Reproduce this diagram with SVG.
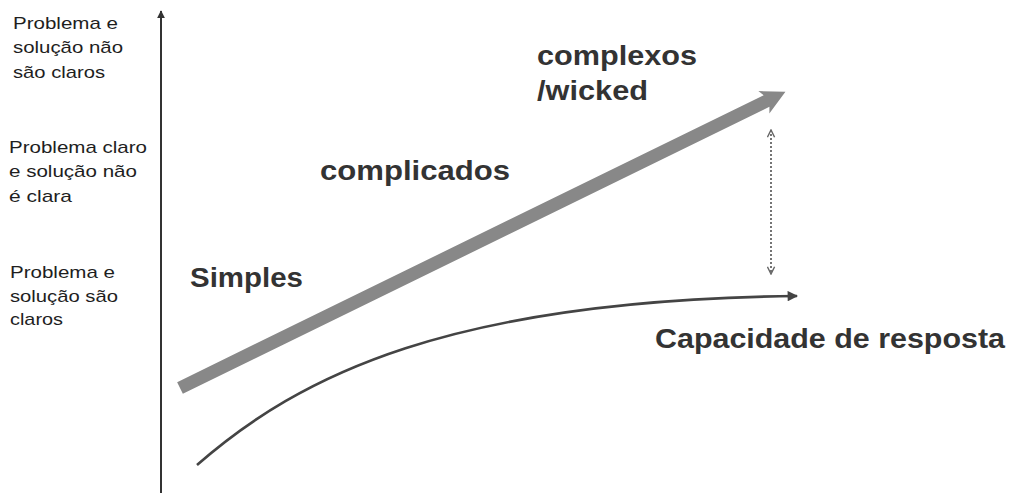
<svg xmlns="http://www.w3.org/2000/svg" width="1011" height="493" viewBox="0 0 1011 493">
  <style>
    .lbl { font-family: "Liberation Sans", Arial, sans-serif; font-size: 17px; fill: #1e1e1e; }
    .big { font-family: "Liberation Sans", Arial, sans-serif; font-size: 28px; font-weight: bold; fill: #333; }
    .axis { stroke: #333; stroke-width: 2; fill: none; }
    .gap { stroke: #666; stroke-width: 1.8; stroke-dasharray: 2 2; fill: none; }
    .resp { stroke: #444; stroke-width: 2.6; fill: none; }
  </style>
  <defs>
    <marker id="axisHead" viewBox="0 0 10 10" refX="9" refY="5" markerWidth="4" markerHeight="4" orient="auto" markerUnits="strokeWidth">
      <path d="M0,0 L10,5 L0,10 Z" fill="#333"/>
    </marker>
    <marker id="gapHead" viewBox="0 0 10 10" refX="9" refY="5" markerWidth="5" markerHeight="5" orient="auto-start-reverse" markerUnits="strokeWidth">
      <path d="M1,1 L9,5 L1,9" fill="none" stroke="#666" stroke-width="1.6"/>
    </marker>
    <marker id="respHead" viewBox="0 0 10 10" refX="9" refY="5" markerWidth="4.5" markerHeight="4" orient="auto" markerUnits="strokeWidth">
      <path d="M0,0 L10,5 L0,10 Z" fill="#444"/>
    </marker>
  </defs>

  <!-- row labels on the left -->
  <g id="label-top">
    <text class="lbl" x="13" y="29" textLength="105" lengthAdjust="spacingAndGlyphs">Problema e</text>
    <text class="lbl" x="13" y="53" textLength="110" lengthAdjust="spacingAndGlyphs">solução não</text>
    <text class="lbl" x="13" y="78" textLength="92" lengthAdjust="spacingAndGlyphs">são claros</text>
  </g>
  <g id="label-middle">
    <text class="lbl" x="9" y="153" textLength="138" lengthAdjust="spacingAndGlyphs">Problema claro</text>
    <text class="lbl" x="9" y="177" textLength="128" lengthAdjust="spacingAndGlyphs">e solução não</text>
    <text class="lbl" x="9" y="202" textLength="63" lengthAdjust="spacingAndGlyphs">é clara</text>
  </g>
  <g id="label-bottom">
    <text class="lbl" x="10" y="278" textLength="105" lengthAdjust="spacingAndGlyphs">Problema e</text>
    <text class="lbl" x="10" y="302" textLength="108" lengthAdjust="spacingAndGlyphs">solução são</text>
    <text class="lbl" x="10" y="325" textLength="53" lengthAdjust="spacingAndGlyphs">claros</text>
  </g>

  <!-- category labels -->
  <g id="simples">
    <text class="big" x="190" y="287" textLength="113" lengthAdjust="spacingAndGlyphs">Simples</text>
  </g>
  <g id="complicados">
    <text class="big" x="320" y="180" textLength="190" lengthAdjust="spacingAndGlyphs">complicados</text>
  </g>
  <g id="complexos">
    <text class="big" x="537" y="65" textLength="160" lengthAdjust="spacingAndGlyphs">complexos</text>
    <text class="big" x="537" y="100" textLength="111" lengthAdjust="spacingAndGlyphs">/wicked</text>
  </g>
  <g id="capacidade">
    <text class="big" x="655" y="348" textLength="350" lengthAdjust="spacingAndGlyphs">Capacidade de resposta</text>
  </g>

  <g id="connectors">
    <!-- vertical axis -->
    <line class="axis" x1="161" y1="493" x2="161" y2="11" marker-end="url(#axisHead)"/>
    <!-- thick complexity arrow -->
    <g transform="translate(180,388) rotate(-26.07)">
      <polygon points="0,-6.5 653,-6.5 650,-12.5 674,0 650,12.5 653,6.5 0,6.5" fill="#888"/>
    </g>
    <!-- gap between complexity and response capacity -->
    <line class="gap" x1="771" y1="130" x2="771" y2="274" marker-start="url(#gapHead)" marker-end="url(#gapHead)"/>
    <!-- response capacity curve -->
    <path class="resp" d="M197,465 C300,375 450,300 797,296" marker-end="url(#respHead)"/>
  </g>
</svg>
